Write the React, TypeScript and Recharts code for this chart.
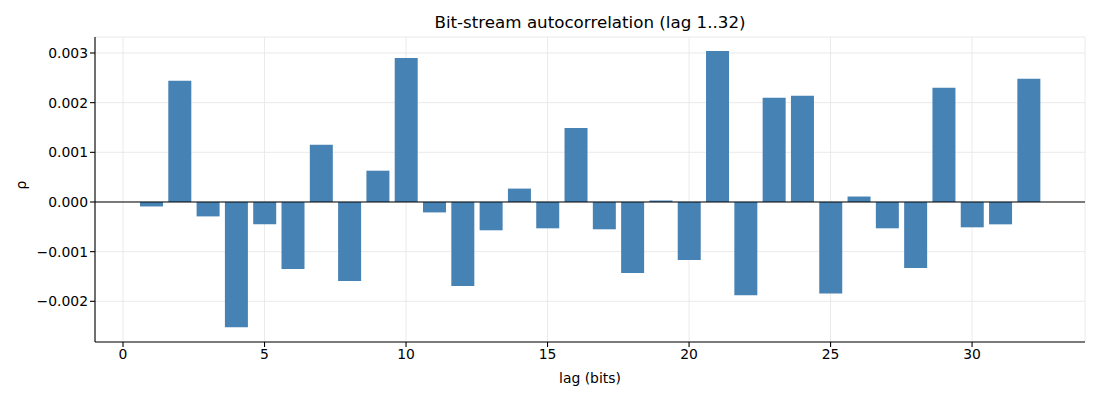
import React from "react";
import { ComposedChart, Bar, XAxis, YAxis, CartesianGrid, ReferenceLine } from "recharts";

const lags = [1, 2, 3, 4, 5, 6, 7, 8, 9, 10, 11, 12, 13, 14, 15, 16, 17, 18, 19, 20, 21, 22, 23, 24, 25, 26, 27, 28, 29, 30, 31, 32];
const rho = [
  -0.00009, 0.00244, -0.00029, -0.00252, -0.00045, -0.00135, 0.00115, -0.00159,
  0.00063, 0.0029, -0.00021, -0.00169, -0.00057, 0.00027, -0.00053, 0.00149,
  -0.00055, -0.00143, 0.00003, -0.00117, 0.00304, -0.00188, 0.0021, 0.00214,
  -0.00184, 0.00011, -0.00053, -0.00133, 0.0023, -0.00051, -0.00045, 0.00248,
];
const xTicks = [0, 5, 10, 15, 20, 25, 30];
const yTicks = [-0.002, -0.001, 0, 0.001, 0.002, 0.003];

const data = lags.map((lag, i) => ({ lag, rho: rho[i] }));

const FONT = "'DejaVu Sans', sans-serif";
const fmtY = (v: number) => {
  const s = Math.abs(v).toFixed(3);
  return v < -1e-12 ? "\u2212" + s : s;
};

export default function App() {
  return (
    <div style={{ position: "absolute", left: 0, top: 0, width: 1100, height: 400, background: "#fff", fontFamily: FONT }}>
      <div style={{ position: "absolute", left: 95, width: 990, top: 12, textAlign: "center", fontSize: 16.7, color: "#000", lineHeight: "20px" }}>
        Bit-stream autocorrelation (lag 1..32)
      </div>
      <ComposedChart
        width={1100}
        height={400}
        data={data}
        margin={{ top: 37, right: 15, bottom: 13, left: 0 }}
        barCategoryGap="10%"
        barGap={0}
      >
        <CartesianGrid stroke="#e4e4e4" strokeWidth={0.8} />
        <XAxis
          dataKey="lag"
          type="number"
          height={45}
          domain={[-0.99, 33.99]}
          allowDataOverflow
          ticks={xTicks}
          interval={0}
          tickSize={5}
          stroke="#000"
          strokeWidth={1.1}
          tick={{ fill: "#000", fontSize: 13.9, fontFamily: FONT }}
          tickLine={{ stroke: "#000" }}
          label={{ value: "lag (bits)", position: "insideBottom", offset: 4, fill: "#000", fontSize: 13.9, fontFamily: FONT }}
        />
        <YAxis
          type="number"
          width={95}
          domain={[-0.002819, 0.003322]}
          allowDataOverflow
          ticks={yTicks}
          interval={0}
          tickFormatter={fmtY}
          tickSize={5}
          stroke="#000"
          strokeWidth={1.1}
          tick={{ fill: "#000", fontSize: 13.9, fontFamily: FONT }}
          tickLine={{ stroke: "#000" }}
          label={{ value: "\u03c1", angle: -90, position: "insideLeft", offset: 21, fill: "#000", fontSize: 13.9, fontFamily: FONT }}
        />
        <Bar dataKey="rho" fill="#4682b4" isAnimationActive={false} />
        <ReferenceLine y={0} stroke="#000" strokeWidth={1} ifOverflow="extendDomain" />
      </ComposedChart>
    </div>
  );
}
